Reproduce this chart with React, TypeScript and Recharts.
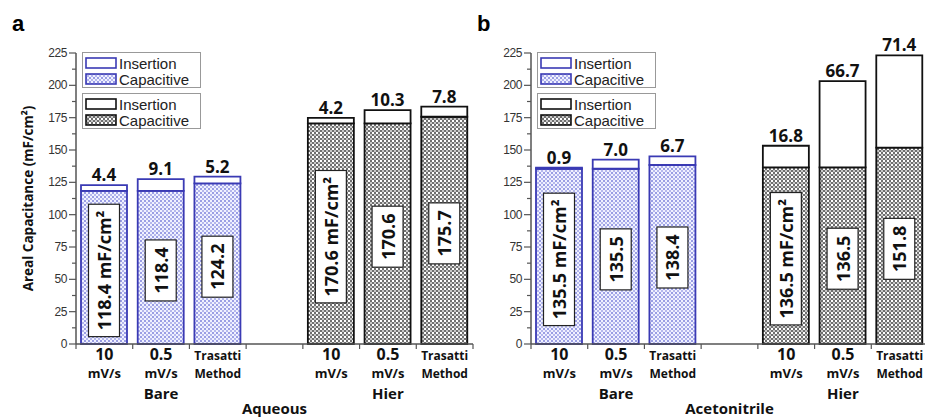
import React from "react";
import { BarChart, Bar, XAxis, YAxis, Cell, LabelList, Legend } from "recharts";

// categories along the x axis (slot 4 is the empty gap between Bare and Hier)
const categories = ["bare-10", "bare-0.5", "bare-trasatti", "gap", "hier-10", "hier-0.5", "hier-trasatti"];
const tickTop = ["10", "0.5", "Trasatti", "", "10", "0.5", "Trasatti"];
const tickBottom = ["mV/s", "mV/s", "Method", "", "mV/s", "mV/s", "Method"];
const groupNames = ["", "Bare", "", "", "", "Hier", ""];
const electrodes = ["bare", "bare", "bare", "", "hier", "hier", "hier"];
const unitShown = [true, false, false, false, true, false, false];
const yTicks = [0, 12.5, 25, 37.5, 50, 62.5, 75, 87.5, 100, 112.5, 125, 137.5, 150, 162.5, 175, 187.5, 200, 212.5, 225];

// panel a, aqueous electrolyte
const aqueousCapacitive = [118.4, 118.4, 124.2, null, 170.6, 170.6, 175.7];
const aqueousInsertion = [4.4, 9.1, 5.2, null, 4.2, 10.3, 7.8];
// panel b, acetonitrile electrolyte
const acetonitrileCapacitive = [135.5, 135.5, 138.4, null, 136.5, 136.5, 151.8];
const acetonitrileInsertion = [0.9, 7.0, 6.7, null, 16.8, 66.7, 71.4];

const legendNames = ["Insertion", "Capacitive"];

const BOLD = "'Open Sans', 'DejaVu Sans', sans-serif";
const PLAIN = "'Liberation Sans', Arial, sans-serif";
const AXIS = "#555";

const styles: Record<string, { stroke: string; fill: string }> = {
  bare: { stroke: "#3a3ab4", fill: "url(#bareChecker)" },
  hier: { stroke: "#111", fill: "url(#hierChecker)" },
};

const Patterns = () => (
  <svg width={0} height={0} style={{ position: "absolute" }}>
    <defs>
      <pattern id="bareChecker" width={4} height={4} patternUnits="userSpaceOnUse">
        <rect width={4} height={4} fill="#f0f1ff" />
        <rect width={2} height={2} fill="#9a9ee4" />
        <rect x={2} y={2} width={2} height={2} fill="#b4b7ec" />
      </pattern>
      <pattern id="hierChecker" width={4} height={4} patternUnits="userSpaceOnUse">
        <rect width={4} height={4} fill="#707070" />
        <rect width={2} height={2} fill="#fff" />
        <rect x={2} y={2} width={2} height={2} fill="#c8c8c8" />
      </pattern>
    </defs>
  </svg>
);

const YTick = (props: any) => {
  const { x, y, payload } = props;
  const major = payload.value % 25 === 0;
  return (
    <g>
      <line x1={x - (major ? 7 : 4)} x2={x} y1={y} y2={y} stroke={AXIS} strokeWidth={1.2} />
      {major && (
        <text x={x - 9} y={y} textAnchor="end" dominantBaseline="central" fontFamily={PLAIN} fontSize={12} fill="#333" letterSpacing={-0.4}>
          {payload.value}
        </text>
      )}
    </g>
  );
};

const makeXTick = (solvent: string) => (props: any) => {
  const { x, y, index, payload } = props;
  const half = payload && payload.offset ? payload.offset : 28.35;
  const top = tickTop[index];
  const big = top === "10" || top === "0.5";
  return (
    <g fontFamily={BOLD} fontWeight={700} fill="#111" textAnchor="middle">
      {index === 0 && <line x1={x - half} x2={x - half} y1={y} y2={y + 5} stroke={AXIS} strokeWidth={1.2} />}
      <line x1={x + half} x2={x + half} y1={y} y2={y + 5} stroke={AXIS} strokeWidth={1.2} />
      <text x={x} y={y + 16} fontSize={big ? 16 : 12}>{top}</text>
      <text x={x} y={y + 34} fontSize={big ? 13 : 12}>{tickBottom[index]}</text>
      {groupNames[index] && <text x={x} y={y + 55} fontSize={15}>{groupNames[index]}</text>}
      {index === 3 && <text x={x} y={y + 70} fontSize={15}>{solvent}</text>}
    </g>
  );
};

const BoxLabel = (props: any) => {
  const { x, y, width, height, value } = props;
  if (!value) return null;
  const text = String(value);
  const len = 10 + 10.2 * text.length;
  const cx = x + width / 2;
  const cy = y + height / 2 + 3;
  return (
    <g>
      <rect x={cx - 15.5} y={cy - len / 2} width={31} height={len} fill="#fff" stroke="#222" strokeWidth={1.2} />
      <text x={cx} y={cy} transform={`rotate(-90 ${cx} ${cy})`} textAnchor="middle" dominantBaseline="central" fontFamily={BOLD} fontWeight={700} fontSize={18} fill="#111">
        {text}
      </text>
    </g>
  );
};

const TopLabel = (props: any) => {
  const { x, y, width, value } = props;
  if (value == null) return null;
  return (
    <text x={x + width / 2} y={y - 4} textAnchor="middle" fontFamily={BOLD} fontWeight={700} fontSize={17} fill="#111">
      {Number(value).toFixed(1)}
    </text>
  );
};

const LegendBoxes = () => (
  <div style={{ fontFamily: PLAIN, fontSize: 15, color: "#222", lineHeight: 1 }}>
    {["bare", "hier"].map((k) => (
      <div key={k} style={{ width: 119, height: 36, border: "1px solid #999", boxSizing: "border-box", marginBottom: 5, paddingTop: 2 }}>
        {legendNames.map((name) => (
          <div key={name} style={{ display: "flex", alignItems: "center", height: 16, paddingLeft: 2 }}>
            <svg width={33} height={12}>
              <rect x={1} y={1} width={30} height={10} fill={name === "Insertion" ? "#fff" : styles[k].fill} stroke={styles[k].stroke} strokeWidth={1.6} />
            </svg>
            <span style={{ marginLeft: 1 }}>{name}</span>
          </div>
        ))}
      </div>
    ))}
  </div>
);

const Panel = ({ capacitive, insertion, solvent, showTitle, width, right }: any) => {
  const data = categories.map((category, i) => ({
    category,
    capacitive: capacitive[i],
    insertion: insertion[i],
    boxText: capacitive[i] == null ? "" : capacitive[i].toFixed(1) + (unitShown[i] ? " mF/cm²" : ""),
  }));
  return (
    <BarChart width={width} height={417} data={data} margin={{ top: 53, right, left: 0, bottom: 0 }}>
      <XAxis dataKey="category" height={73} interval={0} tickSize={0} tickMargin={0} tickLine={false} axisLine={{ stroke: AXIS, strokeWidth: 1.5 }} tick={makeXTick(solvent)} />
      <YAxis
        type="number"
        domain={[0, 225]}
        ticks={yTicks}
        interval={0}
        width={76}
        tickSize={0}
        tickMargin={0}
        tickLine={false}
        axisLine={{ stroke: AXIS, strokeWidth: 1.5 }}
        tick={<YTick />}
        label={
          showTitle
            ? (p: any) => {
                const vb = p.viewBox || { x: 0, y: 53, height: 291 };
                const cx = vb.x + 28;
                const cy = vb.y + vb.height / 2;
                return (
                  <text x={cx} y={cy} transform={`rotate(-90 ${cx} ${cy})`} textAnchor="middle" dominantBaseline="central" fontFamily={BOLD} fontWeight={700} fontSize={13.5} fill="#111">
                    Areal Capacitance (mF/cm²)
                  </text>
                );
              }
            : undefined
        }
      />
      <Legend layout="horizontal" verticalAlign="middle" align="center" wrapperStyle={{ left: 82, top: 52, width: 120 }} content={() => <LegendBoxes />} />
      <Bar dataKey="capacitive" stackId="s" barSize={46} isAnimationActive={false}>
        {data.map((_, i) => (
          <Cell key={i} fill={styles[electrodes[i] || "bare"].fill} stroke={styles[electrodes[i] || "bare"].stroke} strokeWidth={1.8} />
        ))}
        <LabelList dataKey="boxText" content={<BoxLabel />} />
      </Bar>
      <Bar dataKey="insertion" stackId="s" barSize={46} isAnimationActive={false}>
        {data.map((_, i) => (
          <Cell key={i} fill="#fff" stroke={styles[electrodes[i] || "bare"].stroke} strokeWidth={1.8} />
        ))}
        <LabelList dataKey="insertion" content={<TopLabel />} />
      </Bar>
    </BarChart>
  );
};

export default function App() {
  return (
    <div style={{ position: "absolute", left: 0, top: 0, width: 925, height: 417, overflow: "hidden", background: "#fff" }}>
      <Patterns />
      <div style={{ position: "absolute", left: 0, top: 0 }}>
        <Panel capacitive={aqueousCapacitive} insertion={aqueousInsertion} solvent="Aqueous" showTitle width={480} right={7} />
      </div>
      <div style={{ position: "absolute", left: 455, top: 0 }}>
        <Panel capacitive={acetonitrileCapacitive} insertion={acetonitrileInsertion} solvent="Acetonitrile" showTitle={false} width={473} right={0} />
      </div>
      <div style={{ position: "absolute", left: 12, top: 9, fontFamily: PLAIN, fontWeight: 700, fontSize: 22, lineHeight: "30px" }}>a</div>
      <div style={{ position: "absolute", left: 477, top: 9, fontFamily: PLAIN, fontWeight: 700, fontSize: 22, lineHeight: "30px" }}>b</div>
    </div>
  );
}
